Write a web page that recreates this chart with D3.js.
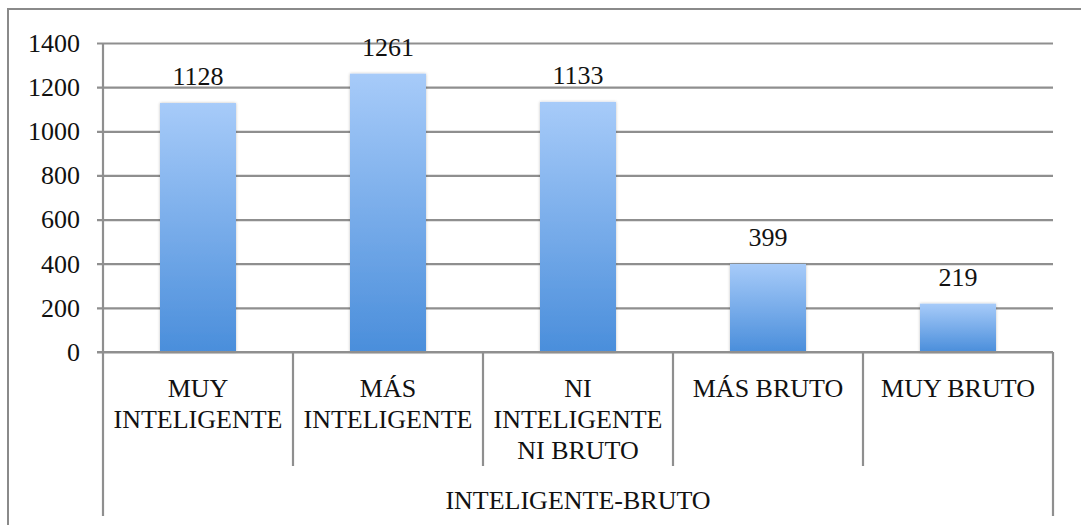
<!DOCTYPE html>
<html>
<head>
<meta charset="utf-8">
<script src="https://cdn.jsdelivr.net/npm/d3@7"></script>
<style>
  html, body { margin: 0; padding: 0; background: #fff; }
  svg { display: block; }
  text { font-family: "Liberation Serif", "Times New Roman", serif; fill: #111; }
</style>
</head>
<body>
<svg id="chart" width="1081" height="525"></svg>
<script>
// Responses on the intelligent–brute scale
const categories = ["MUY INTELIGENTE", "MÁS INTELIGENTE", "NI INTELIGENTE NI BRUTO", "MÁS BRUTO", "MUY BRUTO"];
const categoryLines = [
  ["MUY", "INTELIGENTE"],
  ["MÁS", "INTELIGENTE"],
  ["NI", "INTELIGENTE", "NI BRUTO"],
  ["MÁS BRUTO"],
  ["MUY BRUTO"]
];
const counts = [1128, 1261, 1133, 399, 219];
const yTicks = [0, 200, 400, 600, 800, 1000, 1200, 1400];
const groupTitle = "INTELIGENTE-BRUTO";

const svg = d3.select("#chart");
const plot = { left: 103, right: 1053, top: 43, bottom: 352 };
const gridColor = "#8f8f8f";
const fontSize = 26;
const serif = '"Liberation Serif", "Times New Roman", serif';

// outer chart frame (extends past the bottom/right edges)
svg.append("rect")
  .attr("x", 8).attr("y", 9)
  .attr("width", 1100).attr("height", 600)
  .attr("fill", "none").attr("stroke", "#8a8a8a").attr("stroke-width", 2);

const x = d3.scaleBand().domain(categories).range([plot.left, plot.right]).paddingInner(0.6).paddingOuter(0.3);
const xOuter = d3.scaleBand().domain(categories).range([plot.left, plot.right]);
const y = d3.scaleLinear().domain([0, 1400]).range([plot.bottom, plot.top]);

const defs = svg.append("defs");
const grad = defs.append("linearGradient").attr("id", "barFill")
  .attr("x1", 0).attr("y1", 0).attr("x2", 0).attr("y2", 1);
grad.append("stop").attr("offset", "0%").attr("stop-color", "#a7cbf9");
grad.append("stop").attr("offset", "100%").attr("stop-color", "#4a8edb");

const shadow = defs.append("filter").attr("id", "barShadow")
  .attr("x", "-20%").attr("y", "-20%").attr("width", "140%").attr("height", "140%");
shadow.append("feGaussianBlur").attr("in", "SourceAlpha").attr("stdDeviation", 1.6).attr("result", "blur");
shadow.append("feComponentTransfer").attr("in", "blur").attr("result", "soft")
  .append("feFuncA").attr("type", "linear").attr("slope", 0.25);
const merge = shadow.append("feMerge");
merge.append("feMergeNode").attr("in", "soft");
merge.append("feMergeNode").attr("in", "SourceGraphic");

// horizontal gridlines with left tick marks
const yAxis = d3.axisLeft(y).tickValues(yTicks).tickFormat(d3.format("d")).tickSizeOuter(0).tickPadding(17);
const yg = svg.append("g").attr("transform", `translate(${plot.left - 6},0)`).call(yAxis);
yg.attr("font-family", serif);
yg.select(".domain").remove();
yg.selectAll(".tick line")
  .attr("x1", 0).attr("x2", plot.right - plot.left + 6)
  .attr("stroke", gridColor).attr("stroke-width", 2.2);
yg.selectAll(".tick text")
  .attr("x", -17)
  .style("font-size", fontSize + "px")
  .style("font-family", serif)
  .attr("fill", "#111");

// vertical axis line
svg.append("line")
  .attr("x1", plot.left).attr("x2", plot.left)
  .attr("y1", plot.top).attr("y2", plot.bottom)
  .attr("stroke", gridColor).attr("stroke-width", 2.2);

// bars
svg.append("g").selectAll("rect")
  .data(counts)
  .join("rect")
  .attr("x", (d, i) => x(categories[i]))
  .attr("width", x.bandwidth())
  .attr("y", d => y(d))
  .attr("height", d => y(0) - y(d))
  .attr("fill", "url(#barFill)")
  .attr("filter", "url(#barShadow)");

// value labels
svg.append("g").selectAll("text")
  .data(counts)
  .join("text")
  .attr("x", (d, i) => x(categories[i]) + x.bandwidth() / 2)
  .attr("y", d => y(d) - 18)
  .attr("text-anchor", "middle")
  .style("font-size", fontSize + "px")
  .text(d => d);

// baseline
svg.append("line")
  .attr("x1", plot.left - 6).attr("x2", plot.right)
  .attr("y1", plot.bottom).attr("y2", plot.bottom)
  .attr("stroke", gridColor).attr("stroke-width", 2.2);

// category separators and outer axis boundaries
const seps = categories.slice(1).map(c => xOuter(c));
svg.append("g").selectAll("line")
  .data(seps)
  .join("line")
  .attr("x1", d => d).attr("x2", d => d)
  .attr("y1", plot.bottom).attr("y2", 466)
  .attr("stroke", gridColor).attr("stroke-width", 2.2);
svg.append("g").selectAll("line")
  .data([plot.left, plot.right])
  .join("line")
  .attr("x1", d => d).attr("x2", d => d)
  .attr("y1", plot.bottom).attr("y2", 516)
  .attr("stroke", gridColor).attr("stroke-width", 2.2);

// category labels
const catG = svg.append("g").selectAll("text")
  .data(categories)
  .join("text")
  .attr("x", d => xOuter(d) + xOuter.bandwidth() / 2)
  .attr("y", 397)
  .attr("text-anchor", "middle")
  .style("font-size", fontSize + "px");
catG.each(function (d, i) {
  d3.select(this).selectAll("tspan")
    .data(categoryLines[i])
    .join("tspan")
    .attr("x", xOuter(d) + xOuter.bandwidth() / 2)
    .attr("dy", (t, j) => j === 0 ? 0 : 31)
    .text(t => t);
});

// group title
svg.append("text")
  .attr("x", (plot.left + plot.right) / 2)
  .attr("y", 509)
  .attr("text-anchor", "middle")
  .style("font-size", fontSize + "px")
  .text(groupTitle);
</script>
</body>
</html>
